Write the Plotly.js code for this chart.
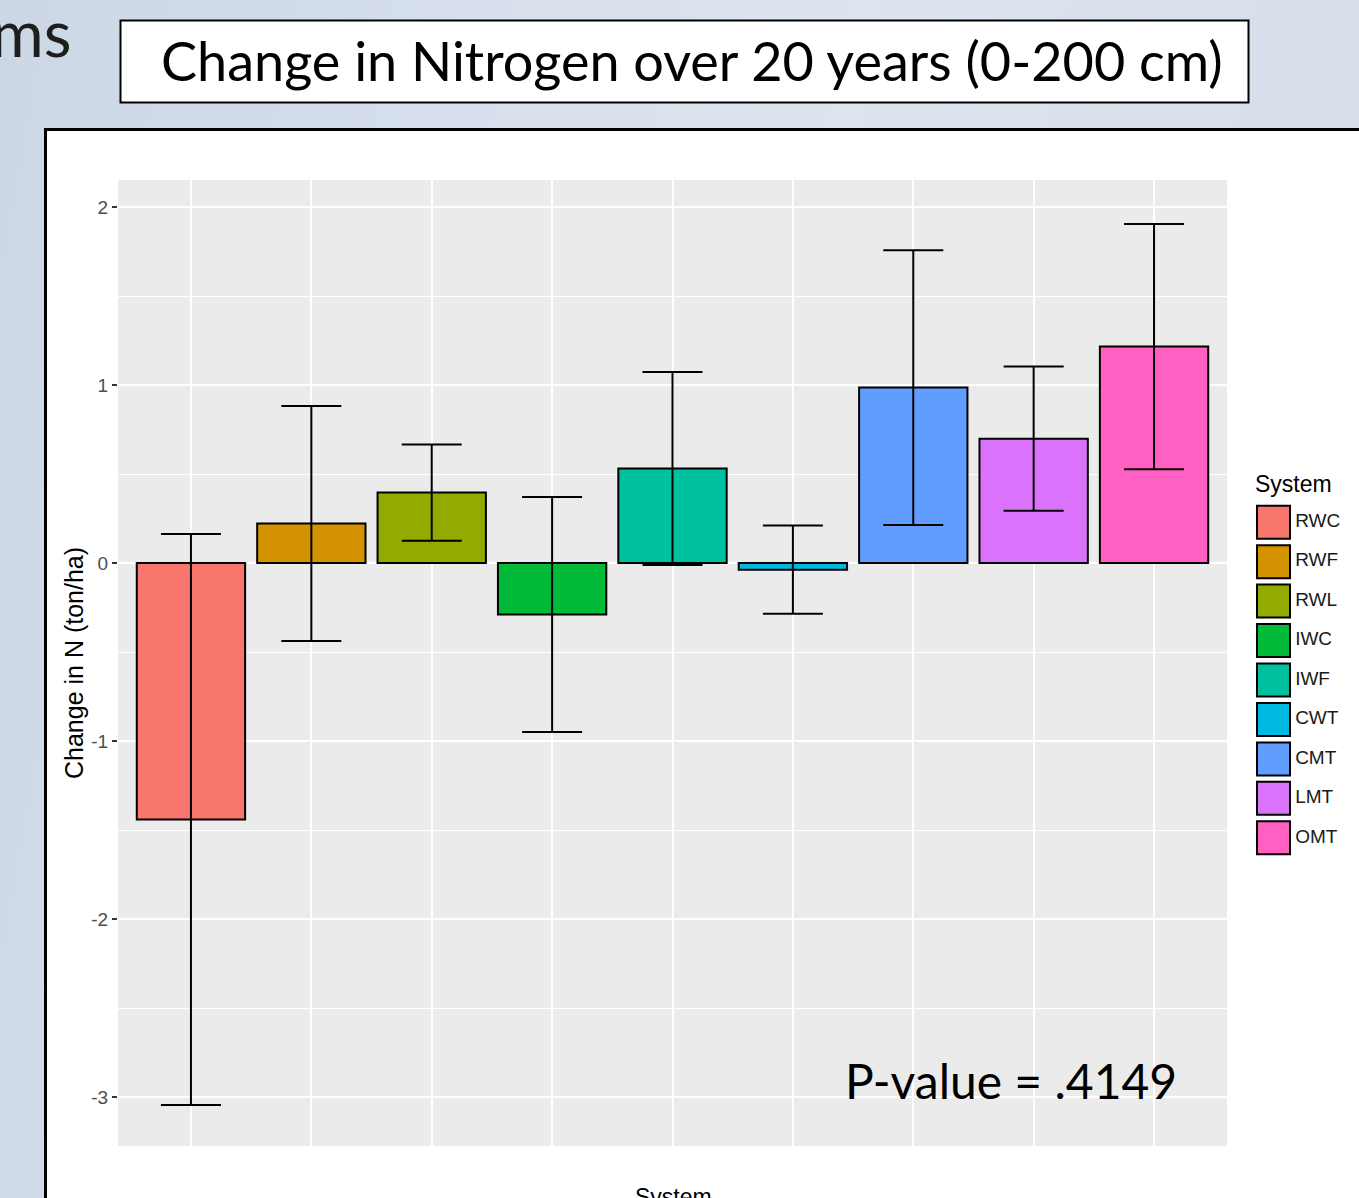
<!DOCTYPE html>
<html>
<head>
<meta charset="utf-8">
<script src="https://cdn.plot.ly/plotly-3.0.1.min.js"></script>
<style>
  html, body { margin: 0; padding: 0; width: 1359px; height: 1198px; overflow: hidden; }
  body { background: linear-gradient(100deg, #ccd7e5 0%, #d6dfeb 30%, #dde4ee 55%, #d3dce8 100%); }
  #chart { width: 1359px; height: 1198px; }
</style>
</head>
<body>
<div id="chart"></div>
<script>
// ---- data ----
const categories = ['RWC', 'RWF', 'RWL', 'IWC', 'IWF', 'CWT', 'CMT', 'LMT', 'OMT'];
const meanChange = [-1.441, 0.222, 0.396, -0.289, 0.531, -0.037, 0.986, 0.699, 1.216];
const stdErr     = [1.604, 0.660, 0.270, 0.660, 0.542, 0.248, 0.772, 0.405, 0.689];
const colors     = ['#F8766D', '#D39200', '#93AA00', '#00BA38', '#00C19F', '#00B9E3', '#619CFF', '#DB72FB', '#FF61C3'];
const yTickVals  = [-3, -2, -1, 0, 1, 2];
const yTickText  = ['-3', '-2', '-1', '0', '1', '2'];
const titleText  = 'Change in Nitrogen over 20 years (0-200 cm)';
const pValueText = 'P-value = .4149';

const W = 1359, H = 1198;
const px = v => v / W;
const py = v => (H - v) / H;

const slideFont = 'Lato, "Open Sans", sans-serif';
const ggFont = '"Liberation Sans", Arial, sans-serif';

const bars = {
  type: 'bar',
  x: categories,
  y: meanChange,
  width: 0.9,
  marker: { color: colors, line: { color: '#000', width: 2 } },
  error_y: { type: 'data', array: stdErr, visible: true, color: '#000', thickness: 2, width: 30 },
  showlegend: false,
  hoverinfo: 'x+y',
  xaxis: 'x', yaxis: 'y'
};

const legendKeys = {
  type: 'scatter',
  mode: 'markers+text',
  x: categories.map(() => 0),
  y: categories,
  text: categories,
  textposition: 'middle right',
  textfont: { family: ggFont, size: 19, color: '#1a1a1a' },
  marker: { symbol: 'square', size: 33, color: colors, line: { color: '#000', width: 2 } },
  cliponaxis: false,
  showlegend: false,
  hoverinfo: 'text',
  xaxis: 'x2', yaxis: 'y2'
};

const layout = {
  width: W, height: H,
  margin: { l: 0, r: 0, t: 0, b: 0 },
  paper_bgcolor: 'rgba(0,0,0,0)',
  plot_bgcolor: 'rgba(0,0,0,0)',
  showlegend: false,
  xaxis: {
    domain: [px(118), px(1227)],
    type: 'category',
    categoryarray: categories,
    range: [-0.606, 8.606],
    showgrid: true, gridcolor: '#ffffff', gridwidth: 2,
    showticklabels: false, ticks: '',
    zeroline: false, showline: false,
    fixedrange: true
  },
  yaxis: {
    domain: [py(1146), py(180)],
    range: [-3.275, 2.152],
    tickmode: 'array', tickvals: yTickVals, ticktext: yTickText,
    ticks: 'outside', ticklen: 5, tickwidth: 2, tickcolor: '#333333',
    tickfont: { family: ggFont, size: 19, color: '#4d4d4d' },
    showgrid: true, gridcolor: '#ffffff', gridwidth: 2,
    minor: { dtick: 0.5, tick0: 0, showgrid: true, gridcolor: '#ffffff', gridwidth: 1, ticks: '' },
    zeroline: false, showline: false,
    title: { text: 'Change in N (ton/ha)', font: { family: ggFont, size: 25, color: '#000' }, standoff: 0 },
    automargin: false,
    fixedrange: true
  },
  xaxis2: {
    domain: [px(1257), px(1359)],
    range: [-16.5, 85.5],
    visible: false, fixedrange: true
  },
  yaxis2: {
    domain: [py(857.5), py(502.5)],
    type: 'category',
    categoryarray: categories,
    range: [8.5, -0.5],
    visible: false, fixedrange: true
  },
  shapes: [
    { type: 'rect', xref: 'paper', yref: 'paper', x0: px(45.5), x1: px(1400), y0: py(1250), y1: py(129.5),
      fillcolor: '#ffffff', line: { color: '#000', width: 3 }, layer: 'below' },
    { type: 'rect', xref: 'x domain', yref: 'y domain', x0: 0, x1: 1, y0: 0, y1: 1,
      fillcolor: '#EBEBEB', line: { width: 0 }, layer: 'below' },
    { type: 'rect', xref: 'paper', yref: 'paper', x0: px(120.5), x1: px(1248.5), y0: py(102.5), y1: py(20.5),
      fillcolor: '#ffffff', line: { color: '#000', width: 2 }, layer: 'above' }
  ],
  annotations: [
    { text: 'ms', xref: 'paper', yref: 'paper', x: px(73), y: py(32), xanchor: 'right', yanchor: 'middle',
      showarrow: false, font: { family: slideFont, size: 64, color: '#1e1e1e' } },
    { text: titleText, xref: 'paper', yref: 'paper', x: px(692), y: py(60), xanchor: 'center', yanchor: 'middle',
      showarrow: false, font: { family: slideFont, size: 54, color: '#000' } },
    { text: pValueText, xref: 'paper', yref: 'paper', x: px(1011), y: py(1080), xanchor: 'center', yanchor: 'middle',
      showarrow: false, font: { family: slideFont, size: 48, color: '#000' } },
    { text: 'System', xref: 'paper', yref: 'paper', x: px(1253), y: py(484), xanchor: 'left', yanchor: 'middle',
      showarrow: false, font: { family: ggFont, size: 23, color: '#000' } },
    { text: 'System', xref: 'paper', yref: 'paper', x: px(673), y: py(1182), xanchor: 'center', yanchor: 'top',
      showarrow: false, font: { family: ggFont, size: 23, color: '#000' } }
  ]
};

Plotly.newPlot('chart', [bars, legendKeys], layout, { displayModeBar: false, staticPlot: true });
</script>
</body>
</html>
